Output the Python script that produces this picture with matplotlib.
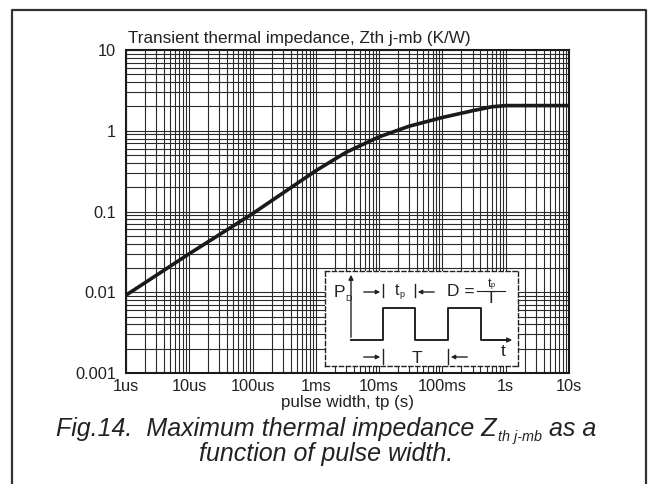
import numpy as np
import matplotlib
matplotlib.use("Agg")
import matplotlib.pyplot as plt
from matplotlib.lines import Line2D

plt.rcParams['font.family'] = ['Liberation Sans', 'DejaVu Sans']

# curve
pulse_width = [1e-6, 1e-5, 1e-4, 1e-3, 3e-3, 5.6e-3, 1e-2, 3e-2, 1e-1, 3e-1, 6e-1, 1.0, 10.0]
zth = [0.0092, 0.030, 0.094, 0.32, 0.54, 0.68, 0.84, 1.14, 1.46, 1.77, 1.98, 2.05, 2.05]

x_ticks = [1e-6, 1e-5, 1e-4, 1e-3, 1e-2, 1e-1, 1, 10]
x_labels = ['1us', '10us', '100us', '1ms', '10ms', '100ms', '1s', '10s']
y_ticks = [0.001, 0.01, 0.1, 1, 10]
y_labels = ['0.001', '0.01', '0.1', '1', '10']

ink = '#222222'

fig = plt.figure(figsize=(6.5, 4.84), dpi=100)

# outer frame (open at the bottom)
fig.add_artist(Line2D([0.0185, 0.0185, 0.9938, 0.9938], [0, 0.9793, 0.9793, 0],
                      transform=fig.transFigure, color='#333333', lw=1.6))

ax = fig.add_axes([0.1938, 0.2293, 0.6815, 0.6674])
ax.set_xscale('log')
ax.set_yscale('log')
ax.set_xlim(1e-6, 10)
ax.set_ylim(0.001, 10)
ax.plot(pulse_width, zth, color='#1a1a1a', lw=2.6, solid_capstyle='butt', zorder=5)

ax.set_xticks(x_ticks)
ax.set_xticklabels(x_labels)
ax.set_yticks(y_ticks)
ax.set_yticklabels(y_labels)
ax.xaxis.set_minor_locator(matplotlib.ticker.LogLocator(base=10, subs=np.arange(2, 10)))
ax.yaxis.set_minor_locator(matplotlib.ticker.LogLocator(base=10, subs=np.arange(2, 10)))
ax.xaxis.set_minor_formatter(matplotlib.ticker.NullFormatter())
ax.yaxis.set_minor_formatter(matplotlib.ticker.NullFormatter())
ax.tick_params(which='both', length=0, labelsize=11.8, colors=ink)
ax.tick_params(axis='x', pad=4)
ax.tick_params(axis='y', pad=7)
ax.grid(True, which='both', color='#2a2a2a', lw=0.8)
for s in ax.spines.values():
    s.set_color('#1a1a1a')
    s.set_linewidth(1.5)

ax.text(0.005, 1.012, 'Transient thermal impedance, Zth j-mb (K/W)', transform=ax.transAxes,
        fontsize=12.3, color=ink, ha='left', va='bottom')
ax.set_xlabel('pulse width, tp (s)', fontsize=12.2, color=ink, labelpad=1)

# duty-cycle sketch
ins = fig.add_axes([0.5, 0.2438, 0.2969, 0.1963])
ins.set_xlim(0, 193)
ins.set_ylim(95, 0)
ins.set_xticks([])
ins.set_yticks([])
ins.set_facecolor('white')
ins.set_zorder(6)
for s in ins.spines.values():
    s.set_linestyle((0, (3, 2)))
    s.set_linewidth(1.0)
    s.set_color(ink)

edges_x = [26, 58, 58, 90, 90, 123, 123, 156, 156, 183]
edges_y = [69, 69, 37, 37, 69, 69, 37, 37, 69, 69]
ins.plot(edges_x, edges_y, color=ink, lw=1.4)
ins.annotate('', xy=(26, 1), xytext=(26, 69),
             arrowprops=dict(arrowstyle='-|>', color=ink, lw=1.0, mutation_scale=7))
ins.annotate('', xy=(190, 69), xytext=(156, 69),
             arrowprops=dict(arrowstyle='-|>', color=ink, lw=1.0, mutation_scale=7))
ins.text(20, 22, 'P', fontsize=12.5, color=ink, ha='right', va='center')
ins.text(20, 27.5, 'D', fontsize=6.5, color=ink, ha='left', va='center')

for y0, y1, ym in [(13, 26, 21), (78, 93, 86)]:
    ins.plot([58, 58], [y0, y1], color=ink, lw=1.0)
    ins.annotate('', xy=(58, ym), xytext=(36, ym),
                 arrowprops=dict(arrowstyle='-|>', color=ink, lw=1.0, mutation_scale=6))
ins.plot([90, 90], [13, 26], color=ink, lw=1.0)
ins.annotate('', xy=(90, 21), xytext=(112, 21),
             arrowprops=dict(arrowstyle='-|>', color=ink, lw=1.0, mutation_scale=6))
ins.plot([123, 123], [78, 93], color=ink, lw=1.0)
ins.annotate('', xy=(123, 86), xytext=(145, 86),
             arrowprops=dict(arrowstyle='-|>', color=ink, lw=1.0, mutation_scale=6))

ins.text(74, 20, 't', fontsize=11.5, color=ink, ha='right', va='center')
ins.text(74, 23.5, 'p', fontsize=6.5, color=ink, ha='left', va='center')
ins.text(92, 87, 'T', fontsize=12.5, color=ink, ha='center', va='center')
ins.text(178, 81, 't', fontsize=12.5, color=ink, ha='center', va='center')
ins.text(150, 21, 'D =', fontsize=12.5, color=ink, ha='right', va='center')
ins.plot([152, 180], [20, 20], color=ink, lw=0.8)
ins.text(166, 13, 't', fontsize=9, color=ink, ha='right', va='center')
ins.text(166, 15, 'p', fontsize=5.5, color=ink, ha='left', va='center')
ins.text(166, 28, 'T', fontsize=12.5, color=ink, ha='center', va='center')

# caption, built piece by piece so the subscript can be small
cap_size = 18
sub_size = 10.4
r = fig.canvas.get_renderer()
pieces = [('Fig.14.  Maximum thermal impedance Z', cap_size, 0.0, 0.0),
          ('th j-mb', sub_size, -4.5, 2.0),
          ('as a', cap_size, 0.0, 6.5)]
texts = []
for s, fs, dy, gap in pieces:
    t = fig.text(0, 0, s, fontsize=fs, style='italic', color=ink, ha='left', va='baseline')
    texts.append((t, dy, gap, t.get_window_extent(r).width))
total = sum(w + gap for _, _, gap, w in texts)
x = 326 - total / 2
base = 484 - 436
for t, dy, gap, w in texts:
    x += gap
    t.set_position((x / 650, (base + dy) / 484))
    x += w
fig.text(326 / 650, (484 - 461) / 484, 'function of pulse width.', fontsize=cap_size,
         style='italic', color=ink, ha='center', va='baseline')

fig.savefig('out.png', dpi=100, facecolor='white')
